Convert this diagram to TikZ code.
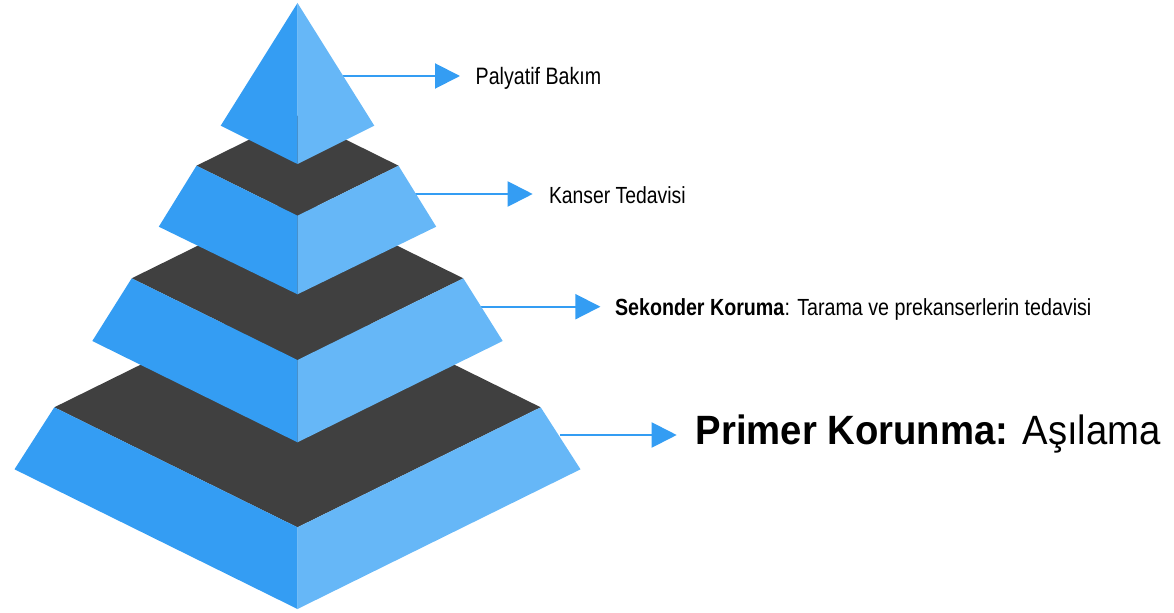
\documentclass[tikz,border=0pt]{standalone}
\usepackage{fontspec}
\usepackage{graphicx}
\setmainfont{Liberation Sans}
\usetikzlibrary{arrows.meta}
\definecolor{faceL}{RGB}{52,157,243}
\definecolor{faceR}{RGB}{102,183,247}
\definecolor{topD}{RGB}{64,64,64}
\definecolor{arrowC}{RGB}{52,157,243}
\tikzset{
  leftface/.style={fill=faceL},
  rightface/.style={fill=faceR},
  topface/.style={fill=topD},
  pointer/.style={draw=arrowC, line width=1.5pt, -{Triangle[length=18.75pt,width=18.75pt]}},
  lbl/.style={anchor=base west, inner sep=0pt, outer sep=0pt}
}
\begin{document}
\begin{tikzpicture}[x=0.75pt,y=-0.75pt]
\useasboundingbox (0,0) rectangle (1174,613);
% arrows
\coordinate (s1) at (343,76);   \coordinate (e1) at (460,76);
\coordinate (s2) at (415,194);  \coordinate (e2) at (532.7,194);
\coordinate (s3) at (481,306.7); \coordinate (e3) at (600.4,306.7);
\coordinate (s4) at (560,435);  \coordinate (e4) at (676.7,435);
\draw[pointer] (s1) -- (e1);
\draw[pointer] (s2) -- (e2);
\draw[pointer] (s3) -- (e3);
\draw[pointer] (s4) -- (e4);
% tier 4
\fill[topface] (54.3,407.3) -- (297.5,527.3) -- (540.7,407.3) -- (297.5,287.3) -- cycle;
\fill[leftface] (54.3,407.3) -- (297.5,527.3) -- (297.5,609) -- (14.5,469.3) -- cycle;
\fill[rightface] (540.7,407.3) -- (297.5,527.3) -- (297.5,609) -- (580.5,469.3) -- cycle;
% tier 3
\fill[topface] (131.7,278.3) -- (297.5,360) -- (463.3,278.3) -- (297.5,196.6) -- cycle;
\fill[leftface] (131.7,278.3) -- (297.5,360) -- (297.5,442.3) -- (92.3,341) -- cycle;
\fill[rightface] (463.3,278.3) -- (297.5,360) -- (297.5,442.3) -- (502.7,341) -- cycle;
% tier 2
\fill[topface] (196.5,165.7) -- (297.5,215.7) -- (398.5,165.7) -- (297.5,115.7) -- cycle;
\fill[leftface] (196.5,165.7) -- (297.5,215.7) -- (297.5,294.3) -- (158.8,226.7) -- cycle;
\fill[rightface] (398.5,165.7) -- (297.5,215.7) -- (297.5,294.3) -- (436.2,226.7) -- cycle;
% tier 1
\fill[leftface] (297.5,3) -- (220.7,125.7) -- (297.5,164) -- cycle;
\fill[rightface] (297.5,3) -- (374.3,125.7) -- (297.5,164) -- cycle;
% labels
\node[lbl] (l1) at (475.7,84.3) {\fontsize{17.8pt}{20pt}\selectfont\scalebox{0.827}[1]{Palyatif Bakım}};
\node[lbl] (l2) at (549,203.3) {\fontsize{17.5pt}{20pt}\selectfont\scalebox{0.83}[1]{Kanser Tedavisi}};
\node[lbl] (l3) at (615,315) {\fontsize{17.5pt}{20pt}\selectfont\scalebox{0.843}[1]{\textbf{Sekonder Koruma}: Tarama ve prekanserlerin tedavisi}};
\node[lbl] (l4) at (695.7,444.3) {\fontsize{30.7pt}{34pt}\selectfont\scalebox{0.935}[1]{\textbf{Primer Korunma:} Aşılama}};
\end{tikzpicture}
\end{document}
